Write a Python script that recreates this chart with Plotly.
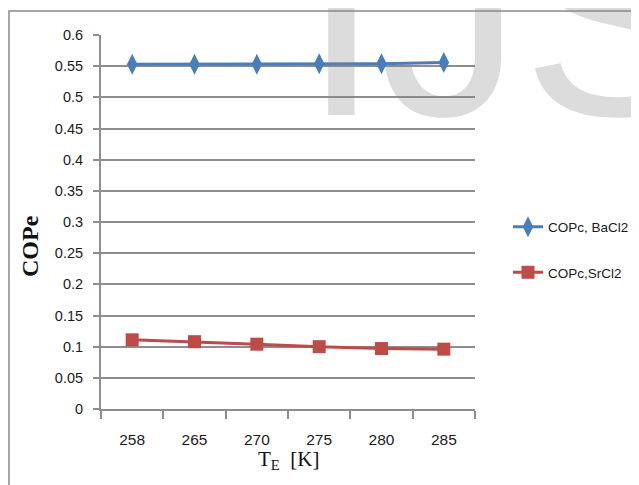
import plotly.graph_objects as go

categories = ["258", "265", "270", "275", "280", "285"]
cop_bacl2 = [0.553, 0.553, 0.553, 0.554, 0.554, 0.556]
cop_srcl2 = [0.111, 0.108, 0.104, 0.100, 0.097, 0.096]
y_ticks = [0, 0.05, 0.1, 0.15, 0.2, 0.25, 0.3, 0.35, 0.4, 0.45, 0.5, 0.55, 0.6]
y_ticktext = ["0", "0.05", "0.1", "0.15", "0.2", "0.25", "0.3", "0.35", "0.4", "0.45", "0.5", "0.55", "0.6"]

# page body has an 8px margin, so the figure is drawn offset by (8, 8)
OFF = 8
W, H = 639 - OFF, 485 - OFF
L, R, T, B = 101, 475, 35, 409   # plot area in page pixels

def px_x(x):
    return (x - L) / (R - L)

def px_y(y):
    return (B - y) / (B - T)

SANS = "Liberation Sans, Arial, sans-serif"
SERIF = "Liberation Serif, Times New Roman, serif"
GRID = "#8e8e8e"

fig = go.Figure()
fig.add_trace(go.Scatter(
    x=categories, y=cop_bacl2, name="COPc, BaCl2", mode="lines+markers",
    line=dict(color="#4a7ebb", width=3),
    marker=dict(symbol="diamond-tall", size=15, color="#4a7ebb"),
    legendgroup="a",
))
fig.add_trace(go.Scatter(
    x=categories, y=cop_srcl2, name="COPc,SrCl2", mode="lines+markers",
    line=dict(color="#be4b48", width=3),
    marker=dict(symbol="square", size=13, color="#be4b48"),
    legendgroup="b",
))

fig.update_layout(
    width=W, height=H,
    margin=dict(l=L - OFF, r=639 - R, t=T - OFF, b=485 - B, autoexpand=False),
    paper_bgcolor="white", plot_bgcolor="rgba(0,0,0,0)",
    showlegend=True,
    legend=dict(
        x=px_x(508), xanchor="left", y=px_y(250), yanchor="middle",
        font=dict(family=SANS, size=13.5, color="#1a1a1a"),
        bgcolor="rgba(0,0,0,0)", traceorder="grouped", tracegroupgap=25,
        itemwidth=30,
    ),
    xaxis=dict(
        type="category", range=[-0.5, 5.5], tickson="boundaries",
        showgrid=False, showline=True, linecolor=GRID, linewidth=2,
        ticks="outside", ticklen=8, tickcolor=GRID, tickwidth=2,
        tickfont=dict(family=SANS, size=15.5, color="#1a1a1a"),
        ticklabelstandoff=15,
        zeroline=False,
    ),
    yaxis=dict(
        range=[0, 0.6], tickvals=y_ticks, ticktext=y_ticktext,
        showgrid=True, gridcolor=GRID, gridwidth=2,
        showline=True, linecolor=GRID, linewidth=2,
        ticks="outside", ticklen=6, tickcolor=GRID, tickwidth=2,
        tickfont=dict(family=SANS, size=14.5, color="#1a1a1a"),
        ticklabelstandoff=7,
        zeroline=False,
    ),
)

# axis titles
fig.add_annotation(text="<b>COPe</b>", xref="paper", yref="paper",
                   x=px_x(30), y=px_y(246), xanchor="center", yanchor="middle",
                   textangle=-90, showarrow=False,
                   font=dict(family=SERIF, size=24, color="#111"))
fig.add_annotation(text="T<sub>E</sub>  [K]", xref="paper", yref="paper",
                   x=px_x(288), y=px_y(460), xanchor="center", yanchor="middle",
                   showarrow=False,
                   font=dict(family=SERIF, size=21, color="#111"))

# chart border
fig.add_shape(type="rect", xref="paper", yref="paper",
              x0=px_x(9), x1=px_x(700), y0=px_y(11), y1=px_y(520),
              line=dict(color="#8c8c8c", width=1.5), fillcolor="rgba(0,0,0,0)", layer="below")

# watermark
fig.add_annotation(text="IJS", xref="paper", yref="paper",
                   x=px_x(300), y=px_y(177), xanchor="left", yanchor="bottom",
                   showarrow=False,
                   font=dict(family=SANS, size=283, color="rgba(128,128,128,0.28)"))

fig.write_html("out.html")
